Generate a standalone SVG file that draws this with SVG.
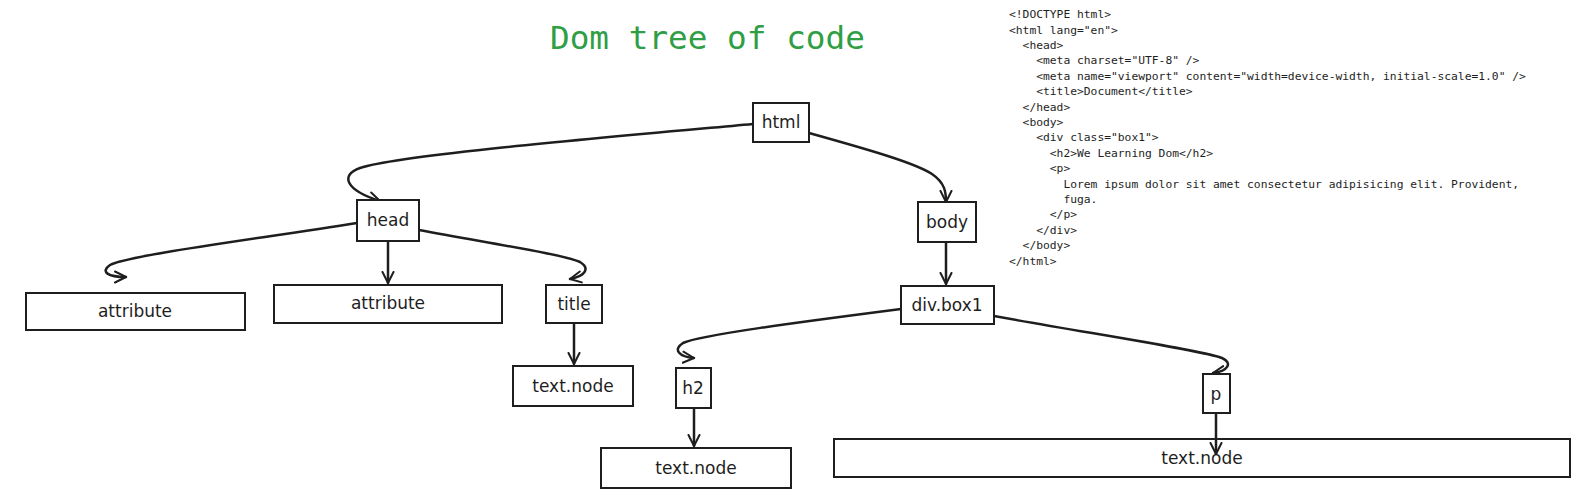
<svg xmlns="http://www.w3.org/2000/svg" width="1578" height="503" viewBox="0 0 1578 503">
<defs>
<marker id="ah" viewBox="-12 -7 14 14" markerWidth="14" markerHeight="14" refX="0" refY="0" orient="auto" markerUnits="userSpaceOnUse">
<path d="M-11,-5.5 L0,0 L-11,5.5" fill="none" stroke="#1e1e1e" stroke-width="2" stroke-linecap="round" stroke-linejoin="round"/>
</marker>
<style>
.box{fill:#ffffff;stroke:#1e1e1e;stroke-width:2}
.lbl{font-family:"DejaVu Sans","Liberation Sans",sans-serif;font-size:17px;fill:#1e1e1e;text-anchor:middle;dominant-baseline:central}
.edge{fill:none;stroke:#1e1e1e;stroke-width:2.5;stroke-linecap:round;marker-end:url(#ah)}
.code{font-family:"DejaVu Sans Mono","Liberation Mono",monospace;font-size:11.3px;fill:#1e1e1e}
.title{font-family:"DejaVu Sans Mono","Liberation Mono",monospace;font-size:32.7px;fill:#2f9e44}
</style>
</defs>
<rect width="1578" height="503" fill="#ffffff"/>
<text class="title" x="550" y="49">Dom tree of code</text>
<g id="code">
<text class="code" x="1009" y="18.1">&lt;!DOCTYPE html&gt;</text>
<text class="code" x="1009" y="33.5">&lt;html lang="en"&gt;</text>
<text class="code" x="1022.6" y="48.9">&lt;head&gt;</text>
<text class="code" x="1036.2" y="64.3">&lt;meta charset="UTF-8" /&gt;</text>
<text class="code" x="1036.2" y="79.7">&lt;meta name="viewport" content="width=device-width, initial-scale=1.0" /&gt;</text>
<text class="code" x="1036.2" y="95.1">&lt;title&gt;Document&lt;/title&gt;</text>
<text class="code" x="1022.6" y="110.5">&lt;/head&gt;</text>
<text class="code" x="1022.6" y="125.9">&lt;body&gt;</text>
<text class="code" x="1036.2" y="141.3">&lt;div class="box1"&gt;</text>
<text class="code" x="1049.8" y="156.7">&lt;h2&gt;We Learning Dom&lt;/h2&gt;</text>
<text class="code" x="1049.8" y="172.1">&lt;p&gt;</text>
<text class="code" x="1063.4" y="187.5">Lorem ipsum dolor sit amet consectetur adipisicing elit. Provident,</text>
<text class="code" x="1063.4" y="202.9">fuga.</text>
<text class="code" x="1049.8" y="218.3">&lt;/p&gt;</text>
<text class="code" x="1036.2" y="233.7">&lt;/div&gt;</text>
<text class="code" x="1022.6" y="249.1">&lt;/body&gt;</text>
<text class="code" x="1009" y="264.5">&lt;/html&gt;</text>
</g>
<g id="connectors">
<path class="edge" d="M753,124 C600,138 400,155 360,168 C340,175 345,190 380,201"/>
<path class="edge" d="M809,133 C870,150 915,163 932,174 C945,183 946,192 946,202"/>
<path class="edge" d="M357,223 C250,240 130,255 110,265 C100,272 108,277 126,277"/>
<path class="edge" d="M388,241 L388,283"/>
<path class="edge" d="M419,230 C500,245 565,255 580,262 C590,268 586,276 570,279"/>
<path class="edge" d="M574,323 L574,364"/>
<path class="edge" d="M946,242 L946,284"/>
<path class="edge" d="M901,309 C800,322 700,335 683,343 C672,350 680,357 694,358"/>
<path class="edge" d="M994,316 C1100,335 1200,350 1222,358 C1233,363 1228,371 1213,373"/>
<path class="edge" d="M694,408 L694,446"/>
<path class="edge" d="M1216,413 L1216,454"/>
</g>
<g id="node-html"><rect class="box" x="753" y="103" width="56" height="39"/><text class="lbl" x="781" y="122">html</text></g>
<g id="node-head"><rect class="box" x="357" y="200" width="62" height="41"/><text class="lbl" x="388" y="220">head</text></g>
<g id="node-body"><rect class="box" x="918" y="202" width="58" height="40"/><text class="lbl" x="947" y="222">body</text></g>
<g id="node-attribute1"><rect class="box" x="26" y="293" width="219" height="37"/><text class="lbl" x="135" y="311">attribute</text></g>
<g id="node-attribute2"><rect class="box" x="274" y="285" width="228" height="38"/><text class="lbl" x="388" y="303">attribute</text></g>
<g id="node-title"><rect class="box" x="546" y="285" width="56" height="38"/><text class="lbl" x="574" y="304">title</text></g>
<g id="node-textnode1"><rect class="box" x="513" y="366" width="120" height="40"/><text class="lbl" x="573" y="386">text.node</text></g>
<g id="node-divbox1"><rect class="box" x="901" y="286" width="93" height="38"/><text class="lbl" x="947" y="305">div.box1</text></g>
<g id="node-h2"><rect class="box" x="676" y="368" width="35" height="40"/><text class="lbl" x="693" y="388">h2</text></g>
<g id="node-textnode2"><rect class="box" x="601" y="448" width="190" height="40"/><text class="lbl" x="696" y="468">text.node</text></g>
<g id="node-p"><rect class="box" x="1203" y="374" width="27" height="39"/><text class="lbl" x="1216" y="394">p</text></g>
<g id="node-textnode3"><rect class="box" x="834" y="439" width="736" height="38" style="fill:none"/><text class="lbl" x="1202" y="458">text.node</text></g>
</svg>
